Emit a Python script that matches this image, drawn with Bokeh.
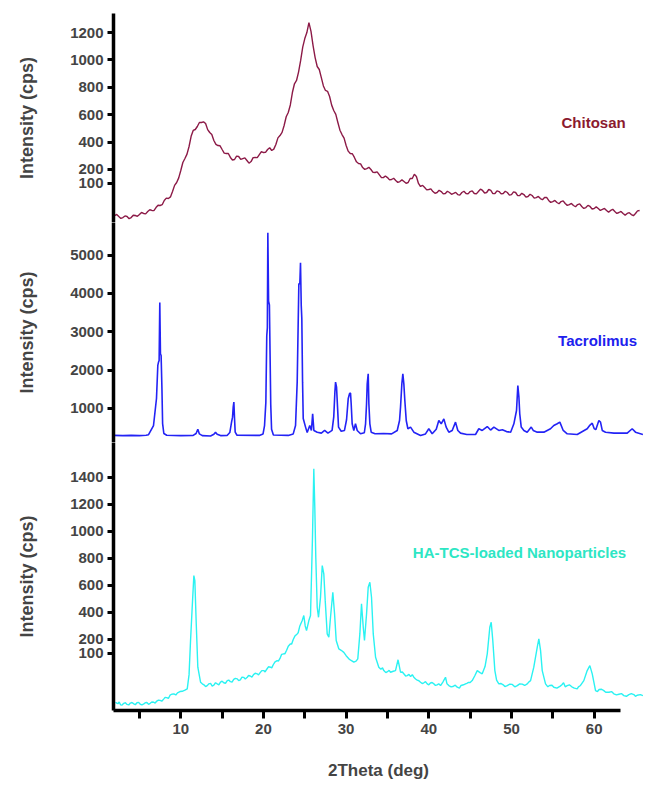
from bokeh.plotting import figure
from bokeh.layouts import column
from bokeh.models import Range1d, FixedTicker, Label
from bokeh.embed import file_html
from bokeh.resources import INLINE

FONT = "Liberation Sans"

# ---------------- data ----------------
chitosan_x = [2.0, 2.5, 3.0, 3.5, 4.0, 4.5, 5.0, 5.5, 6.0, 6.5, 7.0, 7.5, 8.0, 8.5, 9.0, 9.5,
              10.0, 10.5, 11.0, 11.5, 12.0, 12.5, 13.0, 13.5, 14.0, 14.5, 15.0, 15.5, 16.0, 16.5,
              17.0, 17.5, 18.0, 18.5, 19.0, 19.5, 20.0, 20.5, 21.0, 21.5, 22.0, 22.5, 23.0, 23.5,
              24.0, 24.5, 25.0, 25.5, 26.0, 26.5, 27.0, 27.5, 28.0, 28.5, 29.0, 29.5, 30.0, 30.5,
              31.0, 31.5, 32.0, 32.5, 33.0, 33.5, 34.0, 34.5, 35.0, 35.5, 36.0, 36.5, 37.0, 37.5,
              38.0, 38.5, 39.0, 39.5, 40.0, 40.5, 41.0, 41.5, 42.0, 42.5, 43.0, 43.5, 44.0, 44.5,
              45.0, 45.5, 46.0, 46.5, 47.0, 47.5, 48.0, 48.5, 49.0, 49.5, 50.0, 50.5, 51.0, 51.5,
              52.0, 52.5, 53.0, 53.5, 54.0, 54.5, 55.0, 55.5, 56.0, 56.5, 57.0, 57.5, 58.0, 58.5,
              59.0, 59.5, 60.0, 60.5, 61.0, 61.5, 62.0, 62.5, 63.0, 63.5, 64.0, 64.5, 65.0, 65.5]
chitosan_y = [-136, -143, -151, -143, -151, -136, -129, -121, -107, -99, -78, -63, -26, -12, 39, 105,
              193, 280, 368, 485, 514, 543, 536, 470, 412, 375, 346, 317, 288, 273,
              295, 280, 266, 258, 288, 309, 324, 346, 339, 382, 448, 521, 616, 762,
              850, 996, 1156, 1273, 1105, 952, 871, 777, 733, 631, 543, 455, 375, 317,
              288, 244, 214, 207, 200, 178, 163, 141, 141, 127, 120, 112, 112, 105,
              134, 149, 76, 68, 54, 39, 32, 39, 25, 32, 25, 17, 32, 25,
              39, 25, 39, 47, 32, 47, 25, 39, 25, 32, 17, 32, 10, 17,
              3, 10, -5, -12, -5, -26, -34, -41, -34, -48, -56, -63, -56, -70,
              -78, -70, -85, -85, -92, -99, -99, -107, -114, -121, -121, -129, -121, -99]
# intermediate (noisy) readings between the points above
chitosan_x2 = [2.25, 2.75, 3.25, 3.75, 4.25, 4.75, 5.25, 5.75, 6.25, 6.75, 7.25, 7.75, 8.25, 8.75,
               9.25, 9.75, 10.25, 10.75, 11.25, 11.75, 12.25, 12.75, 13.25, 13.75, 14.25, 14.75,
               15.25, 15.75, 16.25, 16.75, 17.25, 17.75, 18.25, 18.75, 19.25, 19.75, 20.25, 20.75,
               21.25, 21.75, 22.25, 22.75, 23.25, 23.75, 24.25, 24.75, 25.25, 25.75, 26.25, 26.75,
               27.25, 27.75, 28.25, 28.75, 29.25, 29.75, 30.25, 30.75, 31.25, 31.75, 32.25, 32.75,
               33.25, 33.75, 34.25, 34.75, 35.25, 35.75, 36.25, 36.75, 37.25, 37.75, 38.25, 38.75,
               39.25, 39.75, 40.25, 40.75, 41.25, 41.75, 42.25, 42.75, 43.25, 43.75, 44.25, 44.75,
               45.25, 45.75, 46.25, 46.75, 47.25, 47.75, 48.25, 48.75, 49.25, 49.75, 50.25, 50.75,
               51.25, 51.75, 52.25, 52.75, 53.25, 53.75, 54.25, 54.75, 55.25, 55.75, 56.25, 56.75,
               57.25, 57.75, 58.25, 58.75, 59.25, 59.75, 60.25, 60.75, 61.25, 61.75, 62.25, 62.75,
               63.25, 63.75, 64.25, 64.75, 65.25]
chitosan_y2 = [-128, -157, -139, -159, -134, -142, -114, -124, -94, -100, -61, -57, -9, 0,
               84, 139, 251, 312, 442, 492, 543, 548, 491, 455, 384, 373,
               320, 317, 269, 298, 274, 285, 246, 287, 287, 331, 325, 359,
               349, 431, 471, 585, 671, 826, 913, 1094, 1200, 1209, 1017, 930,
               810, 771, 670, 603, 487, 429, 334, 315, 256, 241, 201, 216,
               179, 183, 142, 153, 124, 136, 106, 124, 99, 134, 165, 98,
               84, 51, 59, 26, 48, 22, 41, 19, 33, 13, 41, 22,
               44, 22, 57, 28, 54, 24, 44, 22, 41, 13, 37, 9,
               26, -2, 19, -9, 3, -21, -4, -40, -26, -50, -29, -62,
               -48, -72, -51, -84, -62, -88, -73, -99, -84, -111, -91, -121,
               -106, -133, -115, -137, -102]

tacro_x = [1.9, 3.0, 4.0, 5.0, 5.8, 6.1, 6.7, 7.06, 7.22, 7.30, 7.38, 7.46, 7.54, 7.62, 7.72, 7.80,
           7.95, 8.3, 10.0, 11.5, 11.85, 12.06, 12.25, 12.6, 13.6, 14.0, 14.2, 14.4, 14.8, 15.6,
           15.93, 16.14, 16.26, 16.34, 16.42, 16.50, 16.58, 16.8, 19.5, 19.95, 20.13, 20.29, 20.40,
           20.47, 20.53, 20.62, 20.72, 20.80, 20.88, 20.98, 21.2, 23.0, 23.6, 23.88, 24.08, 24.28,
           24.40, 24.48, 24.57, 24.64, 24.73, 24.81, 25.09, 25.29, 25.6, 25.8, 25.95, 26.1, 26.5,
           27.0, 27.4, 27.8, 28.3, 28.5, 28.64, 28.72, 28.84, 28.96, 29.08, 29.4, 29.8, 30.05,
           30.25, 30.41, 30.53, 30.61, 30.73, 30.93, 31.13, 31.34, 31.74, 32.2, 32.35, 32.47,
           32.55, 32.67, 32.75, 32.87, 33.03, 33.5, 34.5, 35.5, 36.18, 36.46, 36.58, 36.74, 36.86,
           36.98, 37.10, 37.27, 37.47, 37.79, 38.19, 39.0, 39.6, 40.0, 40.41, 40.9, 41.21, 41.5,
           41.82, 42.1, 42.42, 42.83, 43.23, 43.51, 43.84, 44.6, 45.65, 46.05, 46.46, 47.07, 47.47,
           47.87, 48.47, 48.9, 49.4, 49.9, 50.29, 50.61, 50.77, 50.9, 51.0, 51.18, 51.5, 51.9,
           52.39, 52.63, 53.12, 53.92, 54.72, 55.12, 55.53, 55.85, 56.26, 56.74, 57.95, 59.16,
           59.5, 59.77, 60.0, 60.2, 60.57, 60.77, 60.98, 61.38, 62.4, 64.0, 64.6, 65.0, 65.9]
tacro_y = [290, 285, 290, 285, 295, 310, 549, 1255, 2119, 2200, 2250, 3766, 2420, 2380, 1500, 600,
           340, 295, 285, 290, 340, 450, 330, 285, 275, 320, 370, 320, 285, 290,
           366, 637, 767, 1029, 1160, 733, 375, 295, 290, 330, 549, 1160, 2900,
           3100, 5588, 3800, 3700, 2400, 1100, 450, 300, 290, 330, 549, 1683, 4254,
           4254, 4803, 3687, 3340, 1683, 733, 507, 366, 549, 420, 856, 420, 375,
           350, 420, 350, 420, 767, 1421, 1683, 1550, 1029, 507, 400, 420, 700,
           1247, 1380, 1400, 1116, 594, 420, 594, 420, 333, 360, 594, 1116,
           1640, 1902, 1116, 594, 375, 333, 340, 330, 420, 680, 1029, 1640, 1902,
           1640, 1202, 680, 464, 507, 375, 288, 330, 464, 333, 450, 680, 594,
           720, 507, 375, 420, 637, 420, 350, 314, 314, 464, 420, 523, 430,
           507, 420, 440, 390, 375, 594, 941, 1594, 1290, 856, 507, 420, 375,
           507, 420, 375, 375, 464, 549, 594, 637, 420, 333, 314, 464,
           560, 611, 470, 440, 680, 637, 420, 375, 350, 350, 464, 375, 314]

nano_x = [2.10, 2.4, 2.71, 3.1, 3.5, 3.9, 4.32, 4.7, 5.1, 5.53, 5.9, 6.3, 6.74, 7.1, 7.5, 7.95,
          8.3, 8.7, 9.16, 9.6, 10.17, 10.5, 10.78, 11.0, 11.18, 11.38, 11.58, 11.70, 11.87, 12.06,
          12.39, 12.8, 13.20, 13.6, 14.0, 14.41, 14.8, 15.2, 15.62, 16.0, 16.4, 16.83, 17.2, 17.6,
          18.04, 18.4, 18.8, 19.25, 19.6, 20.04, 20.4, 20.85, 21.2, 21.66, 22.0, 22.46, 22.8, 23.27,
          23.6, 24.08, 24.4, 24.69, 24.88, 25.05, 25.21, 25.49, 25.69, 25.93, 26.09, 26.21, 26.33,
          26.50, 26.66, 26.90, 27.11, 27.30, 27.47, 27.71, 27.91, 28.11, 28.39, 28.60, 28.80, 29.12,
          29.4, 29.72, 30.0, 30.33, 30.6, 30.93, 31.2, 31.41, 31.66, 31.86, 32.07, 32.22, 32.47,
          32.67, 32.87, 33.07, 33.28, 33.56, 33.95, 34.2, 34.56, 35.0, 35.37, 35.7, 35.97, 36.28,
          36.58, 37.0, 37.39, 37.8, 38.0, 38.19, 38.6, 39.0, 39.4, 39.81, 40.2, 40.61, 41.0, 41.42,
          41.7, 42.02, 42.42, 42.9, 43.44, 43.9, 44.44, 44.8, 45.25, 45.55, 45.86, 46.2, 46.46,
          46.8, 47.07, 47.38, 47.55, 47.74, 47.99, 48.2, 48.47, 49.0, 49.49, 50.1, 50.70, 51.3,
          51.91, 52.31, 52.70, 53.12, 53.31, 53.52, 53.72, 54.12, 54.6, 55.12, 55.9, 56.3, 56.74,
          57.3, 57.95, 58.35, 58.75, 59.16, 59.48, 59.77, 60.17, 60.6, 61.17, 61.8, 62.38, 63.0,
          63.59, 64.2, 64.80, 65.2, 65.9]
nano_y = [-264, -275, -283, -272, -280, -270, -276, -268, -279, -276, -266, -272, -264, -255, -250, -239,
          -230, -212, -202, -195, -183, -175, -165, -60, 192, 438, 672, 635, 315, -5,
          -116, -135, -141, -125, -138, -128, -115, -120, -104, -112, -95, -91, -98, -80,
          -79, -70, -60, -54, -45, -30, -20, -5, 15, 44, 60, 94, 120, 168,
          200, 241, 300, 340, 377, 300, 266, 340, 377, 956, 1461, 1177, 808,
          438, 364, 512, 746, 685, 487, 241, 216, 364, 549, 389, 192, 130,
          120, 105, 80, 57, 45, 32, 40, 57, 241, 463, 290, 192, 389,
          586, 623, 512, 241, 69, -5, -20, -30, -38, -42, -35, -30, 50,
          -42, -55, -67, -75, -60, -79, -100, -116, -120, -128, -122, -128, -135, -141,
          -115, -79, -141, -148, -153, -140, -128, -118, -104, -70, -30, -45, -54,
          0, 94, 290, 327, 192, -30, -100, -128, -135, -141, -132, -141, -130,
          -128, -104, -5, 143, 205, 118, -30, -128, -140, -153, -145, -120, -141,
          -150, -165, -140, -104, -30, 7, -54, -178, -170, -178, -190, -202, -205,
          -215, -208, -207, -212, -215]
# intermediate (noisy) readings in the flatter stretches
nano_x2 = [2.25, 2.55, 2.9, 3.3, 3.7, 4.1, 4.5, 4.9, 5.3, 5.7, 6.1, 6.5, 6.9, 7.3, 7.7, 8.1,
           8.5, 8.9, 9.4, 9.9, 12.6, 13.0, 13.4, 13.8, 14.2, 14.6, 15.0, 15.4, 15.8, 16.2, 16.6,
           17.0, 17.4, 17.8, 18.2, 18.6, 19.0, 19.4, 19.8, 20.2, 20.6, 21.0, 21.4, 21.8, 22.2,
           22.6, 23.0, 23.4, 23.8, 24.2, 34.4, 34.8, 35.2, 36.8, 37.2, 37.6, 38.4, 38.8, 39.2,
           39.6, 40.0, 40.4, 40.8, 41.2, 42.2, 42.7, 43.2, 43.7, 44.2, 44.6, 45.0, 48.7, 49.2,
           49.8, 50.4, 51.0, 51.6, 52.1, 54.4, 54.9, 55.5, 56.1, 56.5, 57.0, 57.6, 58.1, 60.4,
           60.9, 61.4, 62.1, 62.7, 63.3, 63.9, 64.5, 65.0, 65.6]
nano_y2 = [-270, -262, -285, -268, -284, -266, -282, -265, -283, -268, -279, -262, -270, -248, -256, -228,
           -236, -205, -210, -185, -128, -148, -128, -144, -120, -135, -108, -125, -100, -115, -88,
           -104, -78, -92, -66, -78, -50, -62, -30, -40, -2, -10, 35, 40, 90,
           95, 150, 165, 225, 250, -10, -45, -28, -40, -70, -58, -92, -105, -126,
           -112, -135, -118, -140, -128, -128, -150, -138, -160, -135, -124, -118, -125, -148,
           -130, -150, -128, -140, -115, -150, -138, -160, -135, -150, -135, -160, -150, -185,
           -168, -190, -185, -210, -200, -220, -200, -220, -208]

x_ticks = [10, 20, 30, 40, 50, 60]
x_minor_ticks = [5, 15, 25, 35, 45, 55]
chitosan_ticks = [100, 200, 400, 600, 800, 1000, 1200]
tacro_ticks = [1000, 2000, 3000, 4000, 5000]
nano_ticks = [100, 200, 400, 600, 800, 1000, 1200, 1400]

names = ["Chitosan", "Tacrolimus", "HA-TCS-loaded Nanoparticles"]


def merged(xa, ya, xb, yb):
    pts = sorted(list(zip(xa, ya)) + list(zip(xb, yb)))
    return [p[0] for p in pts], [p[1] for p in pts]


ch_x, ch_y = merged(chitosan_x, chitosan_y, chitosan_x2, chitosan_y2)
na_x, na_y = merged(nano_x, nano_y, nano_x2, nano_y2)

# ---------------- figures ----------------
LEFT = 113
WIDTH = 643
xr = Range1d(1.86, 65.97)


def make_fig(height, yr, top=0, bottom=0, xaxis=False):
    p = figure(width=WIDTH, height=height, x_range=xr, y_range=yr,
               output_backend="svg", toolbar_location=None,
               x_axis_location="below" if xaxis else None,
               min_border_left=LEFT, min_border_right=0,
               min_border_top=top, min_border_bottom=bottom)
    p.grid.visible = False
    p.outline_line_color = None
    p.background_fill_color = "white"
    p.border_fill_color = "white"
    return p


def style_y(p, ticks):
    ax = p.yaxis[0]
    ax.ticker = FixedTicker(ticks=ticks)
    ax.axis_line_width = 3.5
    ax.axis_line_color = "black"
    ax.major_tick_line_width = 3
    ax.major_tick_out = 6
    ax.major_tick_in = 0
    ax.minor_tick_line_color = None
    ax.major_label_text_font = FONT
    ax.major_label_text_font_style = "bold"
    ax.major_label_text_font_size = "15px"
    ax.major_label_standoff = 4
    ax.axis_label = "Intensity (cps)"
    ax.axis_label_text_font = FONT
    ax.axis_label_text_font_style = "bold"
    ax.axis_label_text_font_size = "18px"
    ax.axis_label_standoff = 30


p1 = make_fig(222, Range1d(-187, 1339), top=13)
p2 = make_fig(220, Range1d(105, 5856))
p3 = make_fig(346, Range1d(-325, 1656), bottom=78, xaxis=True)

p1.line(ch_x, ch_y, line_color="#8c1a47", line_width=1.4)
p2.line(tacro_x, tacro_y, line_color="#2323f5", line_width=1.6)
p3.line(na_x, na_y, line_color="#2af2f2", line_width=1.4)

style_y(p1, chitosan_ticks)
style_y(p2, tacro_ticks)
style_y(p3, nano_ticks)

ax = p3.xaxis[0]
ax.ticker = FixedTicker(ticks=x_ticks, minor_ticks=x_minor_ticks)
ax.bounds = (1.86, 63.19)
ax.axis_line_width = 3.5
ax.axis_line_color = "black"
ax.major_tick_line_width = 3
ax.minor_tick_line_width = 3
ax.major_tick_out = 8
ax.major_tick_in = 0
ax.minor_tick_out = 8
ax.minor_tick_in = 0
ax.minor_tick_line_color = "black"
ax.major_label_text_font = FONT
ax.major_label_text_font_style = "bold"
ax.major_label_text_font_size = "15px"
ax.major_label_standoff = 5
ax.axis_label = "2Theta (deg)"
ax.axis_label_text_font = FONT
ax.axis_label_text_font_style = "bold"
ax.axis_label_text_font_size = "17px"
ax.axis_label_standoff = 24

p1.add_layout(Label(x=59.93, y=543, text=names[0], text_align="center", text_baseline="middle",
                    text_color="#8b1a2e", text_font=FONT, text_font_style="bold",
                    text_font_size="15px"))
p2.add_layout(Label(x=60.41, y=2772, text=names[1], text_align="center", text_baseline="middle",
                    text_color="#2020ee", text_font=FONT, text_font_style="bold",
                    text_font_size="15px"))
p3.add_layout(Label(x=50.97, y=842, text=names[2], text_align="center", text_baseline="middle",
                    text_color="#2de6c4", text_font=FONT, text_font_style="bold",
                    text_font_size="15px"))

layout = column(p1, p2, p3)
open("out.html", "w").write(file_html(layout, INLINE))
